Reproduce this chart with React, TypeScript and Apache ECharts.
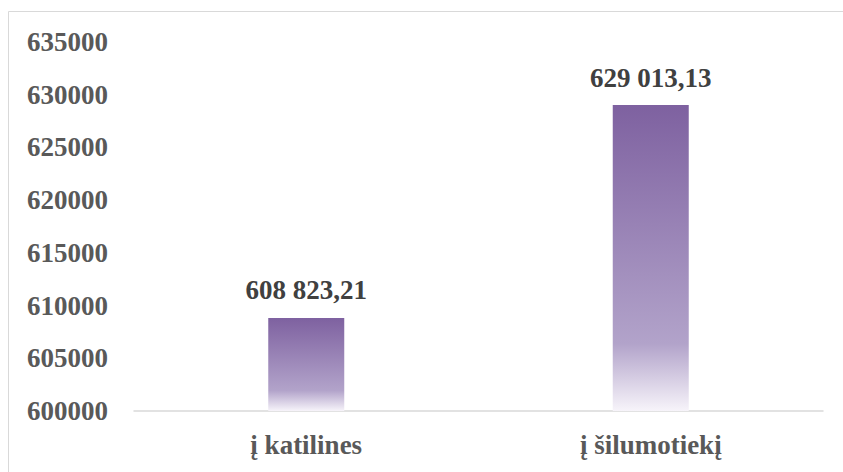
import React, { useEffect, useRef } from "react";
import * as echarts from "echarts";

const categories = ["į katilines", "į šilumotiekį"];
const values = [608823.21, 629013.13];
const valueLabels = ["608 823,21", "629 013,13"];
const yMin = 600000;
const yMax = 635000;
const yStep = 5000;

export default function App() {
  const ref = useRef<HTMLDivElement>(null);
  useEffect(() => {
    if (!ref.current) return;
    const chart = echarts.init(ref.current, null, { renderer: "svg" });
    const font = "'Liberation Serif', 'DejaVu Serif', serif";
    const gradient = new echarts.graphic.LinearGradient(0, 0, 0, 1, [
      { offset: 0, color: "#7e61a0" },
      { offset: 0.78, color: "#b2a3ca" },
      { offset: 1, color: "#f7f4fa" },
    ]);
    chart.setOption({
      animation: false,
      backgroundColor: "#ffffff",
      graphic: [
        {
          type: "rect",
          shape: { x: 8.5, y: 11.5, width: 900, height: 600 },
          style: { fill: "none", stroke: "#d9d9d9", lineWidth: 1 },
          silent: true,
        },
      ],
      grid: { left: 134, right: 20, top: 42, bottom: 61 },
      xAxis: {
        type: "category",
        data: categories,
        axisLine: { show: true, lineStyle: { color: "#d9d9d9", width: 1.5 } },
        axisTick: { show: false },
        axisLabel: {
          color: "#595959",
          fontFamily: font,
          fontWeight: "bold",
          fontSize: 27,
          margin: 20,
        },
      },
      yAxis: {
        type: "value",
        min: yMin,
        max: yMax,
        interval: yStep,
        axisLine: { show: false },
        axisTick: { show: false },
        splitLine: { show: false },
        axisLabel: {
          color: "#595959",
          fontFamily: font,
          fontWeight: "bold",
          fontSize: 27,
          margin: 26,
          formatter: (v: number) => String(v),
        },
      },
      series: [
        {
          type: "bar",
          data: values,
          barWidth: 76,
          itemStyle: { color: gradient },
          label: {
            show: true,
            position: "top",
            distance: 14,
            color: "#404040",
            fontFamily: font,
            fontWeight: "bold",
            fontSize: 27,
            formatter: (p: any) => valueLabels[p.dataIndex],
          },
        },
      ],
    });
    return () => chart.dispose();
  }, []);
  return (
    <div
      ref={ref}
      style={{ position: "fixed", left: 0, top: 0, width: 843, height: 472 }}
    />
  );
}
